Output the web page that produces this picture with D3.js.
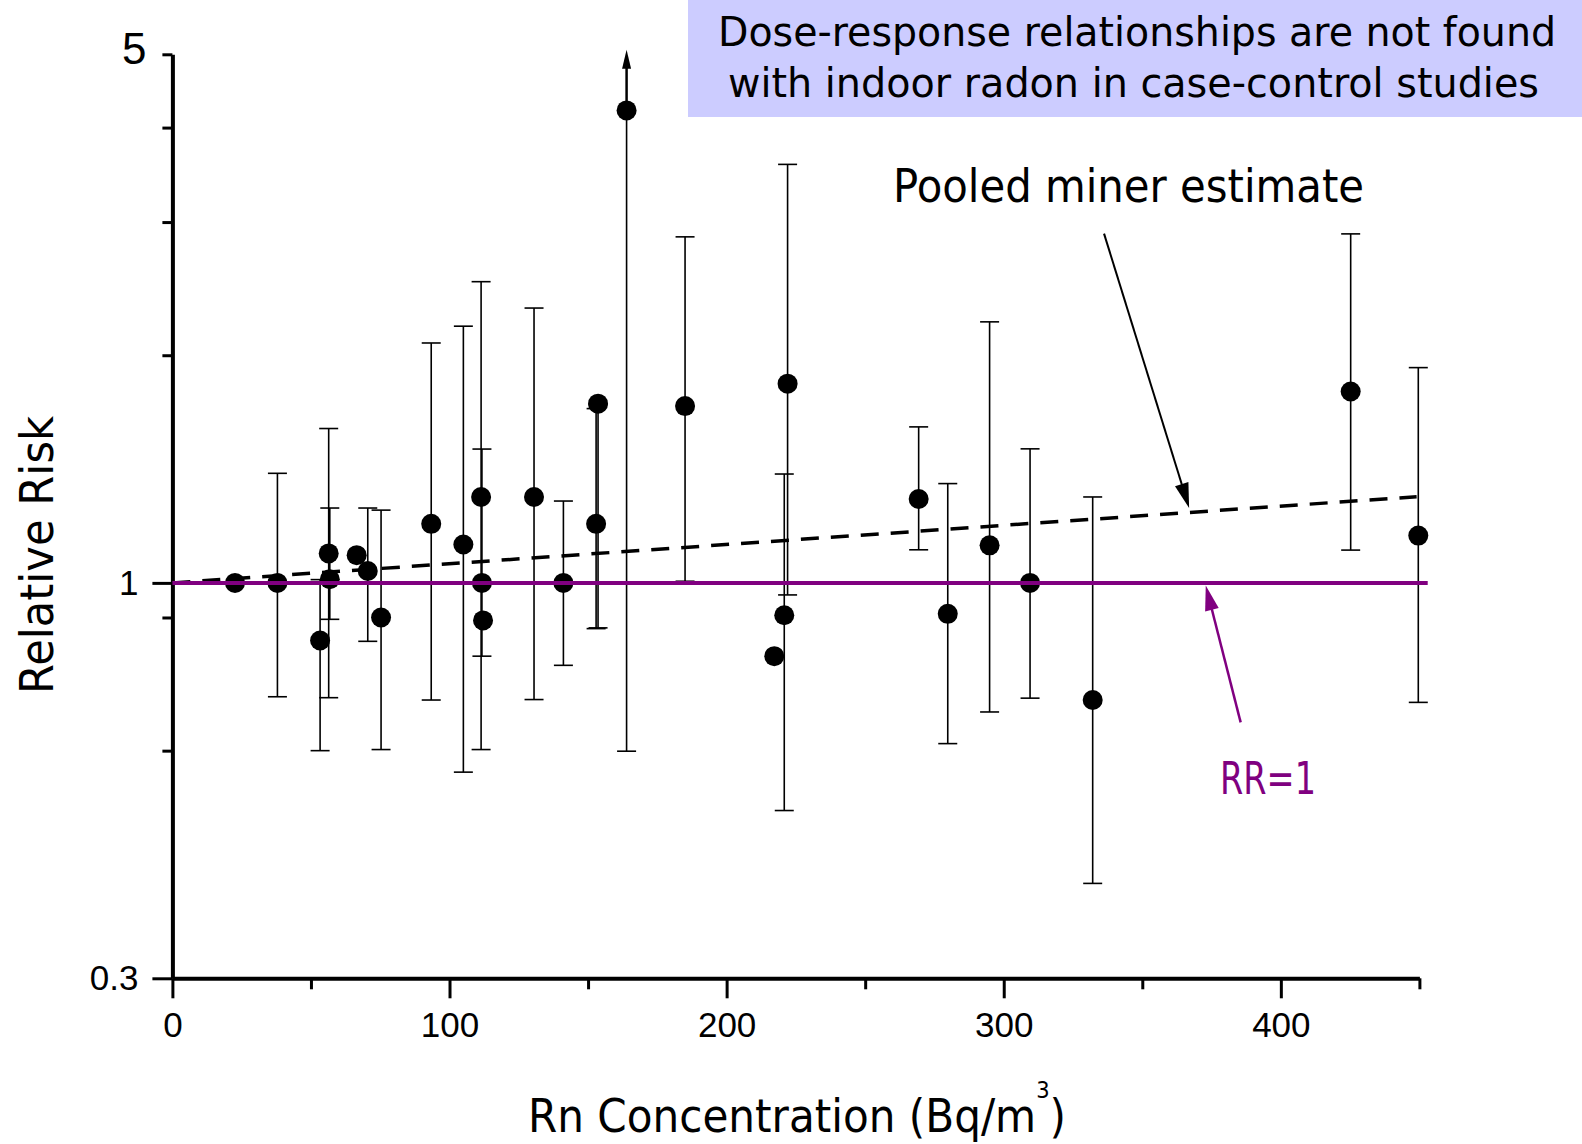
<!DOCTYPE html>
<html>
<head>
<meta charset="utf-8">
<script src="https://cdn.jsdelivr.net/npm/d3@7"></script>
<style>
  html, body { margin: 0; padding: 0; background: #fff; }
  svg { display: block; }
</style>
</head>
<body>
<svg id="chart" width="1582" height="1144"></svg>
<script>
// Rn concentration (Bq/m3) of each study group
const radon = [22.6, 37.9, 56.4, 56.8, 53.3, 66.5, 70.5, 75.3, 93.4, 105.0, 111.4, 111.7, 112.1, 130.5, 141.1,
  153.6, 152.9, 163.9, 185.0, 222.0, 220.8, 217.2, 269.3, 279.8, 294.9, 309.5, 332.1, 425.2, 449.6];
// relative risk and 95% CI (null = no bar shown)
const relRisk = [1.0, 1.0, 1.094, 1.011, 0.839, 1.088, 1.037, 0.90, 1.197, 1.124, 1.299, 1.0, 0.892, 1.299, 1.0,
  1.726, 1.197, 4.215, 1.713, 1.834, 0.906, 0.80, 1.291, 0.91, 1.121, 1.0, 0.70, 1.791, 1.155];
const ciLow = [null, 0.707, 0.705, 0.895, 0.60, null, 0.837, 0.602, 0.70, 0.562, 0.602, 0.80, null, 0.701, 0.778,
  0.872, 0.870, 0.599, 1.005, 0.964, 0.50, null, 1.106, 0.613, 0.675, 0.704, 0.4005, 1.105, 0.695];
const ciHigh = [null, 1.396, 1.60, 1.256, 1.01, null, 1.256, 1.248, 2.076, 2.185, 2.502, 1.503, null, 2.309, 1.283,
  1.72, 1.70, 5.07, 2.868, 3.576, 1.393, null, 1.608, 1.353, 2.214, 1.504, 1.299, 2.894, 1.926];
// upper limit runs off the chart
const openUpper = [163.9];

// pooled miner estimate and RR=1 reference
const minerX = [0, 449];
const minerRR = [1.0, 1.30];
const refX = [0, 453];
const refRR = [1, 1];

// axis ticks
const xMajor = [0, 100, 200, 300, 400];
const xMinor = [50, 150, 250, 350, 450];
const yMajor = [0.3, 1];
const yMinor = [0.6, 0.9, 2, 3, 4, 5];

const COMIC = '"Comic Sans MS", "DejaVu Sans", sans-serif';
const ARIAL = '"Liberation Sans", Arial, sans-serif';
const PURPLE = "#800080";

const svg = d3.select("#chart");

const x = d3.scaleLinear().domain([0, 450]).range([172.4, 1419.4]);
const y = d3.scaleLog().domain([0.3, 5]).range([978.3, 54.3]);

const data = radon.map((r, i) => ({
  x: r, rr: relRisk[i], lo: ciLow[i], hi: ciHigh[i], open: openUpper.includes(r)
}));

// arrow with filled head, tip at (x2, y2)
function arrow(g, x1, y1, x2, y2, color, width, headLen, headHalf) {
  const dx = x2 - x1, dy = y2 - y1;
  const len = Math.sqrt(dx * dx + dy * dy);
  const ux = dx / len, uy = dy / len;
  const bx = x2 - ux * headLen, by = y2 - uy * headLen;
  g.append("line")
    .attr("x1", x1).attr("y1", y1)
    .attr("x2", bx + ux * 2).attr("y2", by + uy * 2)
    .attr("stroke", color).attr("stroke-width", width);
  g.append("path")
    .attr("d", "M" + x2 + "," + y2 +
      "L" + (bx - uy * headHalf) + "," + (by + ux * headHalf) +
      "L" + (bx + uy * headHalf) + "," + (by - ux * headHalf) + "Z")
    .attr("fill", color);
}

// title box
svg.append("rect")
  .attr("x", 688).attr("y", 0)
  .attr("width", 894).attr("height", 117)
  .attr("fill", "#ccccff");

svg.append("text")
  .attr("x", 718).attr("y", 46)
  .attr("textLength", 838).attr("lengthAdjust", "spacingAndGlyphs")
  .style("font-family", COMIC).style("font-size", "40px")
  .text("Dose-response relationships are not found");

svg.append("text")
  .attr("x", 728).attr("y", 97)
  .attr("textLength", 811).attr("lengthAdjust", "spacingAndGlyphs")
  .style("font-family", COMIC).style("font-size", "40px")
  .text("with indoor radon in case-control studies");

// axes
const gx = svg.append("g").attr("transform", "translate(0," + y(0.3) + ")");
gx.append("g")
  .call(d3.axisBottom(x).tickValues(xMinor).tickSize(11).tickSizeOuter(0).tickFormat(""))
  .call(g => g.select(".domain").remove());
gx.append("g")
  .call(d3.axisBottom(x).tickValues(xMajor).tickSize(20).tickSizeOuter(0).tickPadding(14));

const gy = svg.append("g").attr("transform", "translate(" + x(0) + ",0)");
gy.append("g")
  .attr("class", "ymin")
  .call(d3.axisLeft(y).tickValues(yMinor).tickSize(10).tickSizeOuter(0)
    .tickFormat(d => d === 5 ? "5" : ""))
  .call(g => g.select(".domain").remove());
gy.append("g")
  .call(d3.axisLeft(y).tickValues(yMajor).tickSize(20).tickSizeOuter(0).tickPadding(14)
    .tickFormat(d => d));

svg.selectAll(".domain").attr("stroke", "#000").attr("stroke-width", 4);
svg.selectAll(".tick line").attr("stroke", "#000").attr("stroke-width", 3);
svg.selectAll(".tick text")
  .attr("fill", "#000")
  .style("font-family", ARIAL).style("font-size", "35px");
gy.select(".ymin").selectAll(".tick text")
  .attr("x", -26).attr("dy", "0.22em")
  .style("font-size", "44px");

// error bars
const bars = svg.append("g")
  .selectAll("g")
  .data(data.filter(d => d.lo != null))
  .join("g");

bars.filter(d => !d.open).append("line")
  .attr("x1", d => x(d.x)).attr("x2", d => x(d.x))
  .attr("y1", d => y(d.lo)).attr("y2", d => y(d.hi))
  .attr("stroke", "#000").attr("stroke-width", 1.6);

bars.append("line")
  .attr("x1", d => x(d.x) - 9.5).attr("x2", d => x(d.x) + 9.5)
  .attr("y1", d => y(d.lo)).attr("y2", d => y(d.lo))
  .attr("stroke", "#000").attr("stroke-width", 1.6);

bars.filter(d => !d.open).append("line")
  .attr("x1", d => x(d.x) - 9.5).attr("x2", d => x(d.x) + 9.5)
  .attr("y1", d => y(d.hi)).attr("y2", d => y(d.hi))
  .attr("stroke", "#000").attr("stroke-width", 1.6);

bars.filter(d => d.open).each(function (d) {
  const g = d3.select(this);
  g.append("line")
    .attr("x1", x(d.x)).attr("x2", x(d.x))
    .attr("y1", y(d.lo)).attr("y2", y(d.rr))
    .attr("stroke", "#000").attr("stroke-width", 1.6);
  arrow(g, x(d.x), y(d.rr), x(d.x), y(d.hi), "#000", 2.5, 19, 4.5);
});

// points
svg.append("g")
  .selectAll("circle")
  .data(data)
  .join("circle")
  .attr("cx", d => x(d.x))
  .attr("cy", d => y(d.rr))
  .attr("r", 10)
  .attr("fill", "#000");

// pooled miner estimate (dashed) and RR=1 line
const line = d3.line().x(d => x(d[0])).y(d => y(d[1]));

svg.append("path")
  .attr("d", line(minerX.map((v, i) => [v, minerRR[i]])))
  .attr("fill", "none")
  .attr("stroke", "#000")
  .attr("stroke-width", 3.5)
  .attr("stroke-dasharray", "18,12");

svg.append("path")
  .attr("d", line(refX.map((v, i) => [v, refRR[i]])))
  .attr("fill", "none")
  .attr("stroke", PURPLE)
  .attr("stroke-width", 4);

// annotations
const notes = svg.append("g");
arrow(notes, x(336.2), y(2.896), x(366.9), y(1.256), "#000", 2, 25, 7);
arrow(notes, x(385.5), y(0.654), x(372.9), y(0.992), PURPLE, 2.5, 25, 7);

notes.append("text")
  .attr("x", 893).attr("y", 202)
  .attr("textLength", 471).attr("lengthAdjust", "spacingAndGlyphs")
  .style("font-family", COMIC).style("font-size", "46px")
  .text("Pooled miner estimate");

notes.append("text")
  .attr("x", 1220).attr("y", 794)
  .attr("textLength", 96).attr("lengthAdjust", "spacingAndGlyphs")
  .attr("fill", PURPLE)
  .style("font-family", COMIC).style("font-size", "44px")
  .text("RR=1");

// axis titles
svg.append("text")
  .attr("transform", "translate(52.5,694) rotate(-90)")
  .attr("textLength", 278).attr("lengthAdjust", "spacingAndGlyphs")
  .style("font-family", COMIC).style("font-size", "46px")
  .text("Relative Risk");

const xTitle = svg.append("text")
  .attr("x", 528).attr("y", 1132)
  .attr("textLength", 538).attr("lengthAdjust", "spacingAndGlyphs")
  .style("font-family", COMIC).style("font-size", "46px");
xTitle.append("tspan").text("Rn Concentration (Bq/m");
xTitle.append("tspan").attr("dy", -34).style("font-size", "23px").text("3");
xTitle.append("tspan").attr("dy", 34).text(")");
</script>
</body>
</html>
